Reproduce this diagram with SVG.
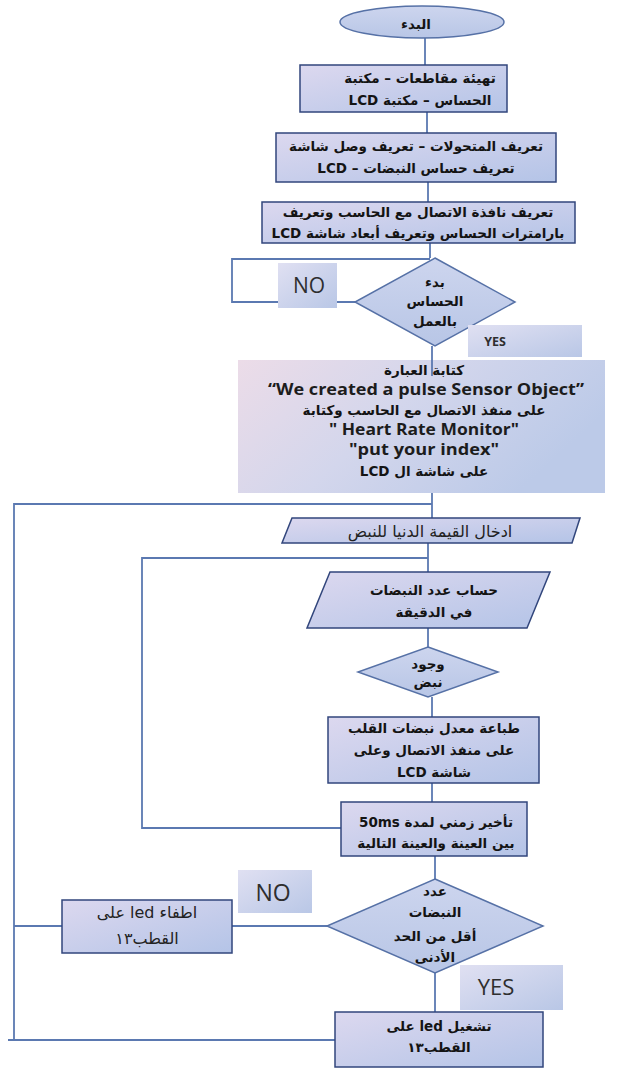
<svg xmlns="http://www.w3.org/2000/svg" width="625" height="1069" viewBox="0 0 625 1069">
  <defs>
    <linearGradient id="gBox" x1="0" y1="0" x2="1" y2="1">
      <stop offset="0" stop-color="#dcd8ef"/>
      <stop offset="1" stop-color="#b4c4e7"/>
    </linearGradient>
    <linearGradient id="gBig" x1="0" y1="0" x2="1" y2="0.4">
      <stop offset="0" stop-color="#ecdce8"/>
      <stop offset="0.5" stop-color="#d3d6ec"/>
      <stop offset="1" stop-color="#bccae8"/>
    </linearGradient>
    <linearGradient id="gLbl" x1="0" y1="0" x2="1" y2="1">
      <stop offset="0" stop-color="#e0e0f2"/>
      <stop offset="1" stop-color="#b9c7e6"/>
    </linearGradient>
    <linearGradient id="gDia" x1="0" y1="0" x2="0" y2="1">
      <stop offset="0" stop-color="#cdd5ee"/>
      <stop offset="1" stop-color="#b8c6e6"/>
    </linearGradient>
    <style>
      .box { fill: url(#gBox); stroke: #32467c; stroke-width: 1.5; }
      .big { fill: url(#gBig); }
      .dia { fill: url(#gDia); stroke: #5671a6; stroke-width: 1.5; }
      .lblbox { fill: url(#gLbl); }
      .conn { fill: none; stroke: #5b79b1; stroke-width: 1.8; }
      .ar { font-family: 'DejaVu Sans', sans-serif; font-weight: bold; font-size: 13.5px; fill: #141414; text-anchor: middle; }
      .arn { font-family: 'DejaVu Sans', sans-serif; font-size: 16px; fill: #222; text-anchor: middle; }
      .en { font-family: 'Open Sans', 'DejaVu Sans', sans-serif; font-weight: bold; font-size: 15.5px; fill: #1c1c1c; text-anchor: middle; }
      .lbl { font-family: 'Open Sans', 'Liberation Sans', sans-serif; fill: #2e2e2e; text-anchor: middle; }
    </style>
  </defs>

  <rect width="625" height="1069" fill="#ffffff"/>

  <!-- connectors -->
  <g id="connectors">
    <line class="conn" x1="425" y1="38" x2="425" y2="65"/>
    <line class="conn" x1="427" y1="112" x2="427" y2="133"/>
    <line class="conn" x1="428" y1="182" x2="428" y2="202"/>
    <line class="conn" x1="430" y1="243" x2="430" y2="258"/>
    <!-- sensor not started: wait loop -->
    <polyline class="conn" points="430,259 232,259 232,302 355,302"/>
    <line class="conn" x1="432" y1="346" x2="432" y2="376"/>
    <line class="conn" x1="432" y1="493" x2="432" y2="518"/>
    <line class="conn" x1="428" y1="543" x2="428" y2="572"/>
    <line class="conn" x1="428" y1="628" x2="428" y2="647"/>
    <line class="conn" x1="432" y1="697" x2="432" y2="717"/>
    <line class="conn" x1="432" y1="783" x2="432" y2="802"/>
    <line class="conn" x1="435" y1="856" x2="435" y2="879"/>
    <line class="conn" x1="435" y1="973" x2="435" y2="1012"/>
    <!-- inner measurement loop -->
    <polyline class="conn" points="341,828 142,828 142,558 428,558"/>
    <!-- outer loop back to minimum input -->
    <polyline class="conn" points="432,504 14,504 14,1040"/>
    <line class="conn" x1="8" y1="1040" x2="335" y2="1040"/>
    <line class="conn" x1="14" y1="926" x2="62" y2="926"/>
    <line class="conn" x1="232" y1="926" x2="327" y2="926"/>
  </g>

  <!-- start -->
  <g id="start">
    <ellipse cx="422" cy="22" rx="82" ry="16" fill="url(#gDia)" stroke="#5671a6" stroke-width="1.5"/>
    <text class="ar" x="416" y="29" font-size="19">البدء</text>
  </g>

  <g id="init-libs">
    <rect class="box" x="300" y="65" width="207" height="47"/>
    <text class="ar" x="420" y="83" direction="rtl" font-size="14.5">تهيئة مقاطعات – مكتبة</text>
    <text class="ar" x="420" y="105" direction="rtl" font-size="14.5">الحساس – مكتبة  LCD</text>
  </g>

  <g id="define-vars">
    <rect class="box" x="276" y="133" width="280" height="49"/>
    <text class="ar" x="416" y="151" direction="rtl" font-size="14">تعريف المتحولات – تعريف وصل شاشة</text>
    <text class="ar" x="416" y="173" font-size="14">LCD – تعريف حساس النبضات</text>
  </g>

  <g id="define-serial">
    <rect class="box" x="262" y="202" width="313" height="41"/>
    <text class="ar" x="418" y="217" direction="rtl" font-size="14">تعريف نافذة الاتصال مع الحاسب وتعريف</text>
    <text class="ar" x="418" y="238" direction="rtl" font-size="14">بارامترات الحساس وتعريف أبعاد شاشة LCD</text>
  </g>

  <g id="sensor-started">
    <polygon class="dia" points="435,258 515,302 435,346 355,302"/>
    <text class="ar" x="435" y="287" font-size="11.5">بدء</text>
    <text class="ar" x="435" y="306" font-size="11.5">الحساس</text>
    <text class="ar" x="435" y="326" font-size="11.5">بالعمل</text>
  </g>

  <g id="no-1">
    <rect class="lblbox" x="278" y="263" width="59" height="45"/>
    <text class="lbl" x="309" y="293" font-size="21">NO</text>
  </g>

  <g id="yes-1">
    <rect class="lblbox" x="468" y="325" width="114" height="32"/>
    <text class="lbl" x="495" y="346" font-size="12.5" font-weight="bold">YES</text>
  </g>

  <g id="print-messages">
    <rect class="big" x="238" y="360" width="367" height="133"/>
    <line class="conn" x1="432" y1="360" x2="432" y2="376"/>
    <text class="ar" x="424" y="375">كتابة العبارة</text>
    <text class="en" x="426" y="395" textLength="316" lengthAdjust="spacingAndGlyphs">“We created a pulse Sensor Object”</text>
    <text class="ar" x="424" y="415" direction="rtl">على منفذ الاتصال مع الحاسب وكتابة</text>
    <text class="en" x="424" y="435" textLength="190" lengthAdjust="spacingAndGlyphs">" Heart Rate Monitor"</text>
    <text class="en" x="424" y="455" textLength="150" lengthAdjust="spacingAndGlyphs">"put your index"</text>
    <text class="ar" x="424" y="476" direction="rtl">على شاشة ال LCD</text>
  </g>

  <g id="input-min">
    <polygon class="box" points="292,518 580,518 572,543 282,543"/>
    <text class="arn" x="430" y="537">ادخال القيمة الدنيا للنبض</text>
  </g>

  <g id="count-beats">
    <polygon class="box" points="330,572 550,572 527,628 307,628"/>
    <text class="ar" x="434" y="595">حساب عدد النبضات</text>
    <text class="ar" x="434" y="617">في الدقيقة</text>
  </g>

  <g id="pulse-found">
    <polygon class="dia" points="428,647 498,672 428,697 358,672"/>
    <text class="ar" x="428" y="669" font-size="11.5">وجود</text>
    <text class="ar" x="428" y="687" font-size="11.5">نبض</text>
  </g>

  <g id="print-rate">
    <rect class="box" x="328" y="717" width="211" height="66"/>
    <text class="ar" x="434" y="733" direction="rtl" font-size="14">طباعة معدل نبضات القلب</text>
    <text class="ar" x="434" y="755" direction="rtl" font-size="14">على منفذ الاتصال وعلى</text>
    <text class="ar" x="434" y="777" direction="rtl" font-size="14">شاشة LCD</text>
  </g>

  <g id="delay">
    <rect class="box" x="341" y="802" width="186" height="54"/>
    <text class="ar" x="436" y="827" direction="rtl" font-size="14">تأخير زمني لمدة 50ms</text>
    <text class="ar" x="436" y="848" direction="rtl" font-size="14">بين العينة والعينة التالية</text>
  </g>

  <g id="below-min">
    <polygon class="dia" points="435,879 543,926 435,973 327,926"/>
    <text class="ar" x="435" y="896" font-size="13">عدد</text>
    <text class="ar" x="435" y="917" font-size="13">النبضات</text>
    <text class="ar" x="435" y="941" font-size="13">أقل من الحد</text>
    <text class="ar" x="435" y="962" font-size="13">الأدنى</text>
  </g>

  <g id="no-2">
    <rect class="lblbox" x="238" y="870" width="74" height="43"/>
    <text class="lbl" x="273" y="901" font-size="23">NO</text>
  </g>

  <g id="led-off">
    <rect class="box" x="62" y="900" width="170" height="53"/>
    <text class="arn" x="147" y="918" direction="rtl">اطفاء led على</text>
    <text class="arn" x="147" y="944" direction="rtl">القطب١٣</text>
  </g>

  <g id="yes-2">
    <rect class="lblbox" x="460" y="965" width="103" height="45"/>
    <text class="lbl" x="496" y="995" font-size="22">YES</text>
  </g>

  <g id="led-on">
    <rect class="box" x="335" y="1012" width="208" height="55"/>
    <text class="ar" x="439" y="1031" direction="rtl" font-size="14">تشغيل led على</text>
    <text class="ar" x="439" y="1052" direction="rtl" font-size="14">القطب١٣</text>
  </g>
</svg>
